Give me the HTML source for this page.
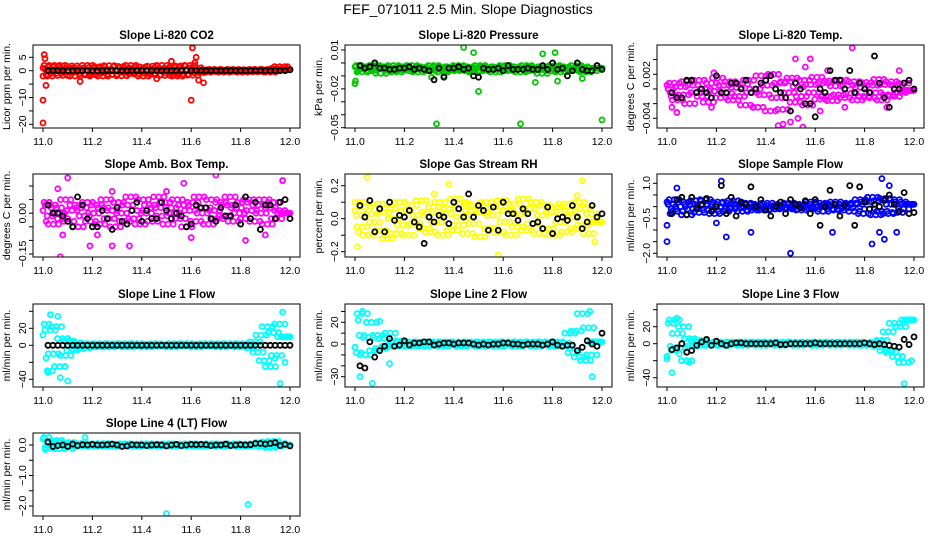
<!DOCTYPE html>
<html><head><meta charset="utf-8">
<style>
html,body{margin:0;padding:0;background:#fff;}
svg{display:block;font-family:"Liberation Sans",Arial,sans-serif;}
</style></head>
<body>
<svg id="chart" width="936" height="540" viewBox="0 0 936 540">
<text x="468" y="14" text-anchor="middle" font-size="14">FEF_071011  2.5 Min. Slope Diagnostics</text>
</svg>
<script>
// ---------- DATA ----------
const xTicks = [11.0, 11.2, 11.4, 11.6, 11.8, 12.0];
const xTickLabels = ["11.0", "11.2", "11.4", "11.6", "11.8", "12.0"];
const panelTitles = ["Slope Li-820 CO2","Slope Li-820 Pressure","Slope Li-820 Temp.","Slope Amb. Box Temp.","Slope Gas Stream RH","Slope Sample Flow","Slope Line 1 Flow","Slope Line 2 Flow","Slope Line 3 Flow","Slope Line 4 (LT) Flow"];
const yLabels = ["Licor ppm per min.","kPa per min.","degrees C per min.","degrees C per min.","percent per min.","ml/min per min.","ml/min per min.","ml/min per min.","ml/min per min.","ml/min per min."];
const yTicks = [
 [5,0,-5,-10,-15,-20],
 [0.01,0,-0.01,-0.02,-0.03,-0.04,-0.05],
 [0.004,0.002,0,-0.002,-0.004],
 [0.1,0.05,0,-0.05,-0.1,-0.15],
 [0.2,0.1,0,-0.1,-0.2],
 [1,0.5,0,-0.5,-1,-1.5,-2],
 [40,20,0,-20,-40],
 [30,20,10,0,-10,-20,-30],
 [40,20,0,-20,-40],
 [0,-0.5,-1,-1.5,-2]];
const yTickLabels = [
 {"5":"5","0":"0","-10":"−10","-20":"−20"},
 {"0.01":"0.01","-0.02":"−0.02","-0.05":"−0.05"},
 {"0.002":"0.002","-0.004":"−0.004"},
 {"0":"0.00","-0.15":"−0.15"},
 {"0.2":"0.2","0":"0.0","-0.2":"−0.2"},
 {"1":"1.0","-0.5":"−0.5","-2":"−2.0"},
 {"20":"20","0":"0","-40":"−40"},
 {"20":"20","0":"0","-30":"−30"},
 {"20":"20","0":"0","-40":"−40"},
 {"0":"0.0","-1":"−1.0","-2":"−2.0"}];
const seriesColors = ["#ff0000","#00c800","#ff00ff","#ff00ff","#ffff00","#0000ff","#00ffff","#00ffff","#00ffff","#00ffff"];

const mainSeries = [
 [1,-1.5,2,-2,0.5,1.5,-1,2,-1.8,0.8,-0.5,1.8,-2,1,0.3,-1.2,2,-1.6,1.2,-0.8,1.5,-2,0.6,1.9,-1.4,0.2,1.6,-1.9,1,-0.6,2,-1.2,0.7,1.4,-2,0.4,-1,1.7,-1.5,0.9,2,-1.8,0.5,-0.9,1.3,-2,1.8,-1.3,0.6,2,-1.7,1.1,-0.7,0.4,-0.5,0.3,-0.4,0.5,-0.3,0.2,-0.5,0.4,-0.2,0.5,-0.4,0.3,-0.5,0.2,0.4,-0.3,0.5,-0.4,0.3,-0.2,0.5,-0.5,0.4,0.8,1.5,0.5],
 [-0.003,-0.006,-0.002,-0.005,-0.007,-0.003,-0.004,-0.006,-0.002,-0.005,-0.008,-0.003,-0.004,-0.006,-0.002,-0.007,-0.004,-0.003,-0.005,-0.006,-0.002,-0.004,-0.007,-0.003,-0.005,-0.004,-0.006,-0.002,-0.005,-0.003,-0.007,-0.004,-0.006,-0.003,-0.005,-0.002,-0.004,-0.006,-0.003,-0.005,-0.007,-0.004,-0.002,-0.006,-0.003,-0.005,-0.004,-0.007,-0.003,-0.005,-0.002,-0.006,-0.004,-0.003,-0.005,-0.007,-0.004,-0.002,-0.006,-0.003,-0.005,-0.004,-0.008,-0.003,-0.005,-0.006,-0.002,-0.004,-0.007,-0.003,-0.005,-0.004,-0.006,-0.002,-0.005,-0.003,-0.007,-0.004,-0.006,-0.004],
 [0.0005,-0.0005,0,-0.001,0.0008,-0.0015,0.0003,-0.0008,0.001,-0.002,0.0005,-0.0005,0.0012,-0.001,0,-0.0018,0.0008,-0.0003,0.0015,-0.0012,0.0005,-0.0006,0.001,-0.0015,0.0002,-0.001,0.0007,-0.0022,0.0012,-0.0005,0,-0.0025,0.0018,-0.0008,0.0005,-0.003,0.002,-0.0012,0.0008,-0.0028,0.001,-0.0005,0.0015,-0.0018,0.0003,-0.001,0.0012,-0.0022,0.0006,-0.0005,0.0016,-0.0014,0.0008,-0.001,0.0011,-0.0016,0.0004,-0.0008,0.0012,-0.0012,0.0005,-0.0006,0.001,-0.0015,0.0002,-0.001,0.0009,-0.0012,0.0005,-0.0005,0.0013,-0.0015,0.0006,-0.0008,0.001,-0.001,0.0005,-0.0005,0.0008,-0.0002],
 [0.01,-0.03,0.04,-0.01,0.03,-0.04,0.02,0,-0.02,0.05,-0.03,0.01,0.03,-0.05,0.02,-0.01,0.04,-0.03,0,0.03,-0.04,0.02,0.05,-0.02,0.01,-0.05,0.04,0,-0.03,0.03,0.06,-0.02,0.01,-0.04,0.05,0,0.03,-0.03,0.02,0.06,-0.01,0.04,-0.04,0.02,0,0.05,-0.02,0.03,-0.05,0.01,0.04,-0.03,0.06,0,0.02,-0.04,0.05,0.01,-0.02,0.04,-0.01,0.03,0.06,-0.03,0.02,0,0.04,-0.02,0.05,0.01,-0.03,0.03,0,0.05,-0.04,0.02,0.04,-0.02,0.01,0],
 [0.05,-0.08,0.02,0.1,-0.05,0.07,-0.1,0.03,-0.02,0.09,-0.07,0.04,-0.12,0.06,0,-0.09,0.1,-0.04,0.05,-0.1,0.08,-0.03,0.02,0.11,-0.06,0.04,-0.08,0.07,-0.02,0.1,-0.1,0.03,0.06,-0.07,0.12,-0.04,0.01,0.09,-0.09,0.05,-0.03,0.08,-0.11,0.04,0.1,-0.06,0.02,0.07,-0.08,0.11,-0.02,0.05,-0.1,0.09,-0.05,0.03,0.12,-0.07,0.06,-0.03,0.1,-0.09,0.02,0.08,-0.06,0.04,-0.1,0.07,-0.02,0.09,-0.08,0.05,0.01,-0.06,0.1,-0.04,0.06,-0.09,0.03,-0.02],
 [0.2,-0.3,0.1,-0.1,0.3,-0.2,0,0.2,-0.35,0.1,-0.1,0.25,-0.25,0.05,0.3,-0.15,0.1,-0.3,0.2,0,-0.2,0.15,-0.1,0.25,-0.05,0.1,-0.2,0.15,0,-0.15,0.1,-0.05,0.05,-0.15,0.15,-0.1,0.05,0,-0.1,0.1,-0.05,0.15,-0.1,0,0.05,-0.15,0.1,-0.05,0.2,-0.1,0,0.15,-0.2,0.05,0.1,-0.1,0.2,-0.15,0,0.1,-0.05,0.15,-0.2,0.1,0.3,-0.3,0.2,-0.1,0.4,-0.35,0.25,-0.2,0.35,-0.3,0.1,0.3,-0.25,0.2,-0.1,0.1],
 [12,-15,25,-30,18,-10,22,-25,8,-12,5,-6,3,-4,2,-3,2,-2,1,-2,2,-1,1,-2,2,-1,1,-1,2,-2,1,-1,2,-1,1,-2,1,-1,2,-1,1,-1,1,-2,2,-1,1,-1,2,-1,1,-2,1,-1,2,-1,1,-1,2,-2,1,-1,2,-1,1,-2,2,-1,1,-3,4,-8,12,-18,22,-25,15,-12,25,10],
 [-3,22,-8,8,28,-10,6,20,-6,8,-4,5,-2,10,-1,3,-2,2,-1,2,-2,1,-1,2,-2,1,-1,2,-1,1,-2,2,-1,1,-1,2,-2,1,-1,2,-1,1,-2,2,-1,1,-1,2,-2,1,-1,2,-1,1,-2,2,-1,1,-1,2,-2,1,-1,2,-1,1,-2,2,-1,1,-2,10,-8,12,-12,28,-15,15,-10,2],
 [-15,-3,24,-8,28,12,-5,20,-20,6,-3,4,-2,3,-1,2,-2,1,-1,2,-2,1,-1,2,-1,1,-2,2,-1,1,-1,2,-2,1,-1,2,-1,1,-2,2,-1,1,-1,2,-2,1,-1,2,-1,1,-2,2,-1,1,-1,2,-2,1,-1,2,-1,1,-2,2,-1,1,-2,1,-1,2,-3,4,-8,14,-10,24,-15,20,-22,28],
 [0.2,-0.1,0.25,0.05,-0.08,0.1,0.15,-0.12,0.05,0,0.08,-0.05,0.03,-0.04,0.05,-0.03,0.04,0,-0.04,0.03,-0.02,0.05,-0.03,0.02,-0.04,0.03,0,-0.03,0.04,-0.02,0.03,-0.04,0.02,0,-0.03,0.04,-0.02,0.03,-0.04,0.02,0,-0.03,0.04,-0.02,0.03,-0.04,0.02,0,-0.03,0.04,-0.02,0.03,-0.04,0.02,0,-0.03,0.04,-0.02,0.03,-0.04,0.02,0,-0.03,0.04,-0.02,0.03,-0.04,0.02,0,-0.03,0.04,-0.02,0.08,-0.05,0.1,-0.08,0.12,-0.04,0.05,0]];

const outlierX = [
 [11.0,11.0,11.005,11.008,11.012,11.0,11.15,11.6,11.605,11.62,11.63,11.615,11.65,11.52,11.19,11.46,11.99],
 [11.0,11.002,11.33,11.67,12.0,11.5,11.44,11.48,11.73,11.81,11.82,11.76,11.36,11.31,11.92],
 [11.02,11.04,11.19,11.18,11.45,11.75,11.52,11.58,11.47,11.55,11.5,11.53,11.62,11.72,11.94,11.89,11.65,11.35,11.56],
 [11.07,11.1,11.06,11.28,11.19,11.57,11.7,11.97,11.6,11.82,11.35,11.28,11.5,11.08,11.9,11.22],
 [11.05,11.38,11.58,11.92,11.01,11.97,11.32,11.0,11.45,11.9],
 [11.0,11.0,11.5,11.24,11.34,11.83,11.88,11.22,11.87,11.04,11.86,11.93,11.67,11.2,11.9],
 [11.03,11.06,11.96,11.1,11.97,11.02,11.07,11.09,11.94,11.98],
 [11.02,11.07,11.03,11.14,11.96,11.95,11.0,11.1],
 [11.02,11.05,11.96,11.0,11.99,11.09,11.04],
 [11.5,11.83,11.17,11.01,11.12]];
const outlierY = [
 [-11,-19.5,6,4.5,-5.5,-2,-4,-11,8.5,5,-3.5,3,-4.5,3.5,-2,-3,1.5],
 [-0.016,-0.014,-0.047,-0.047,-0.044,-0.022,0.012,0.008,-0.015,0.008,-0.014,0.007,-0.01,-0.011,-0.012],
 [-0.0025,-0.0032,0.0022,-0.0025,-0.005,0.0056,0.0041,0.0041,-0.0048,-0.0052,-0.0045,-0.004,-0.003,-0.0025,0.0025,-0.0025,0.0025,-0.0025,0.003],
 [-0.16,0.13,0.09,-0.12,-0.12,0.11,0.14,0.12,-0.09,-0.1,-0.12,0.08,0.08,-0.08,-0.08,-0.08],
 [0.25,0.21,-0.22,0.23,-0.17,-0.14,0.15,0.1,0.1,0.14],
 [-1.5,-0.8,-2.0,-1.3,-1.1,-1.6,-1.4,1.1,1.2,0.8,-1.1,-1.1,-1.1,-0.7,0.9],
 [36,34,-45,-42,39,-32,-38,-25,-15,-20],
 [-30,-36,30,-18,-30,30,-3,21],
 [-34,-12,-47,-18,-20,-22,30],
 [-2.25,-1.95,0.25,-0.15,-0.12]];

const blackSeries = [
 [0,0,0,0,0,0,0,0,0,0,0,0,0,0,0,0,0,0,0,0,0,0,0,0,0,0,0,0,0,0,0,0,0,0,0,0,0,0,0,0,0,0,0,0,0,0,0,0,0,0.3],
 [-0.002,-0.004,-0.003,0,-0.004,-0.004,-0.005,-0.005,-0.004,-0.004,-0.003,-0.005,-0.004,-0.005,-0.006,-0.013,-0.004,-0.011,-0.004,-0.004,-0.003,-0.005,-0.004,-0.01,-0.011,-0.004,-0.005,-0.005,-0.004,-0.006,-0.002,-0.005,-0.005,-0.005,-0.004,-0.005,-0.005,-0.002,-0.005,0,-0.005,-0.004,-0.01,-0.006,0,-0.005,-0.006,-0.006,-0.002,-0.005],
 [-0.0005,-0.0012,-0.0012,0.0012,0.0012,-0.0005,0,-0.0005,-0.0012,0.0018,-0.0005,-0.0005,0.0008,0.0008,0,0.0012,-0.0005,0,0.0008,0.0012,0.0018,0,-0.0005,-0.0012,-0.003,0.0008,0,-0.002,-0.002,-0.0038,0,-0.0005,0.0025,0.0012,0.0012,0,0.0025,-0.0005,0.0008,0,-0.0005,0.0045,0.0008,-0.0012,-0.0025,0,0,0.0008,0.0012,0],
 [0.03,0,0,-0.01,-0.03,-0.05,0.06,0.03,-0.02,-0.05,-0.05,0.01,-0.02,-0.06,0.02,-0.03,-0.04,0.01,0.04,-0.03,0.01,-0.02,-0.02,0.04,0.01,-0.02,0,-0.01,-0.05,-0.04,0.03,0.02,0.02,-0.02,-0.03,0.02,-0.01,-0.01,0.03,-0.04,0.06,-0.02,0.04,-0.06,0.03,0.03,-0.02,0.04,0.05,-0.02],
 [0.08,0.01,0.11,-0.08,0.06,-0.08,0.1,-0.01,0.02,0.01,0.05,-0.02,-0.05,-0.15,0.01,-0.02,0.02,0.01,-0.03,0.1,0.06,0.01,0.15,0.01,0.08,0.05,-0.07,0.07,-0.07,0.1,0.03,0.03,-0.01,0.06,0.03,-0.03,-0.02,-0.06,0.07,-0.09,0,0.01,-0.01,0.08,0.01,-0.06,-0.02,0.08,0.01,0.03],
 [-0.3,0.3,0.4,-0.35,0.4,-0.05,0.1,0.35,-0.2,0,0.9,-0.3,0.4,-0.4,0.2,0.1,0.85,0,0.3,-0.15,-0.4,0,0.2,-0.3,0.3,0.1,-0.05,0.25,-0.3,0.3,-0.8,0,0.7,0.1,-0.4,0.05,0.9,-0.8,0.85,0.2,-0.1,0.1,0,0.3,0.5,0.1,-0.2,0.6,-0.3,-0.25],
 [0,0,0,0,0,0,0,0,0,0,0,0,0,0,0,0,0,0,0,0,0,0,0,0,0,0,0,0,0,0,0,0,0,0,0,0,0,0,0,0,0,0,0,0,0,0,0,0,0,0],
 [-20,-22,2,-12,-6,-2,5,-2,-1,3,-1,1,1,2,2,-1,0,1,1,0,1,1,1,0,-1,0,-1,0,0,1,1,0,0,-1,0,0,0,-1,0,2,-1,-2,-1,-1,-6,-3,3,0,-2,10],
 [-7,-5,0,-10,-8,-2,2,5,-2,3,0,-2,0,1,1,0,0,0,0,0,0,1,-1,-1,0,0,0,0,0,1,0,0,0,0,0,0,0,0,0,1,0,-1,0,-1,-2,-3,-4,5,-1,8],
 [0.1,-0.05,-0.02,0,-0.05,0.03,-0.02,0.01,0,0.02,0,0,0.01,0.03,0,-0.05,-0.03,0.01,0,0,-0.02,0,0.01,0,-0.03,0,0.02,-0.02,0,0.02,0.01,0.02,0.01,-0.02,0,0,0.03,-0.02,0,0.01,0,0.01,0.05,0.05,0.03,0.05,0.08,-0.02,0.02,-0.03]];

// ---------- LAYOUT ----------
const rowTops = [45,174,304,433];
const boxH = 83;
const yRefs = [[5,12.3,-20,79.3],[0.01,5,-0.05,82.7],[0.002,29.3,-0.004,73.3],[0.1,12,-0.15,80],[0.2,11.7,-0.2,77.7],[1,9.3,-2,79.3],[20,24.3,-40,75.3],[20,18.3,-30,72.7],[20,22.7,-40,73.7],[0,12,-2,73]];
const layerCount = 3; // densify band: each layer draws neighbour values at sub-slot x offsets

const svg = document.getElementById('chart');
const NS = 'http://www.w3.org/2000/svg';
function mk(tag, attrs, parent){
  const e = document.createElementNS(NS, tag);
  for (const k in attrs) e.setAttribute(k, attrs[k]);
  (parent||svg).appendChild(e);
  return e;
}

for (let p = 0; p < 10; p++) {
  const col = p % 3, row = Math.floor(p / 3);
  const x11 = 43 + 312 * col;
  const top = rowTops[row];
  const xScale = v => x11 + (v - 11) * 247;
  const r = yRefs[p];
  const yScale = v => top + r[1] + (v - r[0]) * (r[3] - r[1]) / (r[2] - r[0]);
  const left = x11 - 10, right = x11 + 257, bottom = top + boxH;

  const g = mk('g', {});
  
  

  const t = mk('text', {x: (left + right) / 2, y: top - 6, 'text-anchor': 'middle', 'font-size': 11.5, 'font-weight': 'bold'}, g);
  t.textContent = panelTitles[p];
  
  

  const yl = mk('text', {x: 0, y: 0, 'text-anchor': 'middle', 'font-size': 10.5, transform: `translate(${left - 23},${(top + bottom) / 2}) rotate(-90)`}, g);
  yl.textContent = yLabels[p];
  
  

  const cp = mk('clipPath', {id: 'cp' + p}, g);
  mk('rect', {x: left, y: top, width: right - left, height: boxH}, cp);
  const pts = mk('g', {'clip-path': `url(#cp${p})`, fill: 'none', 'stroke-width': 1.8}, g);
  
  

  const ms = mainSeries[p];
  const n = ms.length;
  for (let L = 0; L < layerCount; L++) {
    ms.forEach((v0, i) => {
      const v = ms[Math.min(n - 1, i + 2 * L)];
      const xv = 11 + (i + L / layerCount) / (n - 1 + 2 / 3);
      const c = mk('circle', {cx: xScale(xv), cy: yScale(v), r: 2.5, stroke: seriesColors[p]}, pts);
      
      
    });
  }
  outlierX[p].forEach((xv, i) => {
    const c = mk('circle', {cx: xScale(xv), cy: yScale(outlierY[p][i]), r: 2.5, stroke: seriesColors[p]}, pts);
    
    
  });
  const bs = blackSeries[p];
  bs.forEach((v, i) => {
    const c = mk('circle', {cx: xScale(11.02 + i * 0.98 / (bs.length - 1)), cy: yScale(v), r: 2.5, stroke: '#000'}, pts);
    
    
  });

  const box = mk('rect', {x: left, y: top, width: right - left, height: boxH, fill: 'none', stroke: '#000', 'stroke-width': 1}, g);
  
  

  xTicks.forEach((v, i) => {
    const x = xScale(v);
    mk('line', {x1: x, x2: x, y1: bottom, y2: bottom + 4, stroke: '#000'}, g);
    const tl = mk('text', {x: x, y: bottom + 17, 'text-anchor': 'middle', 'font-size': 10.5}, g);
    tl.textContent = xTickLabels[i];
    
    
  });
  yTicks[p].forEach(v => {
    const y = yScale(v);
    mk('line', {x1: left - 4, x2: left, y1: y, y2: y, stroke: '#000'}, g);
    const lab = yTickLabels[p][String(v)];
    if (lab) {
      const tl = mk('text', {x: 0, y: 0, 'text-anchor': 'middle', 'font-size': 10.5, transform: `translate(${left - 7},${y}) rotate(-90)`}, g);
      tl.textContent = lab;
      
      
    }
  });
}
</script>
</body></html>
